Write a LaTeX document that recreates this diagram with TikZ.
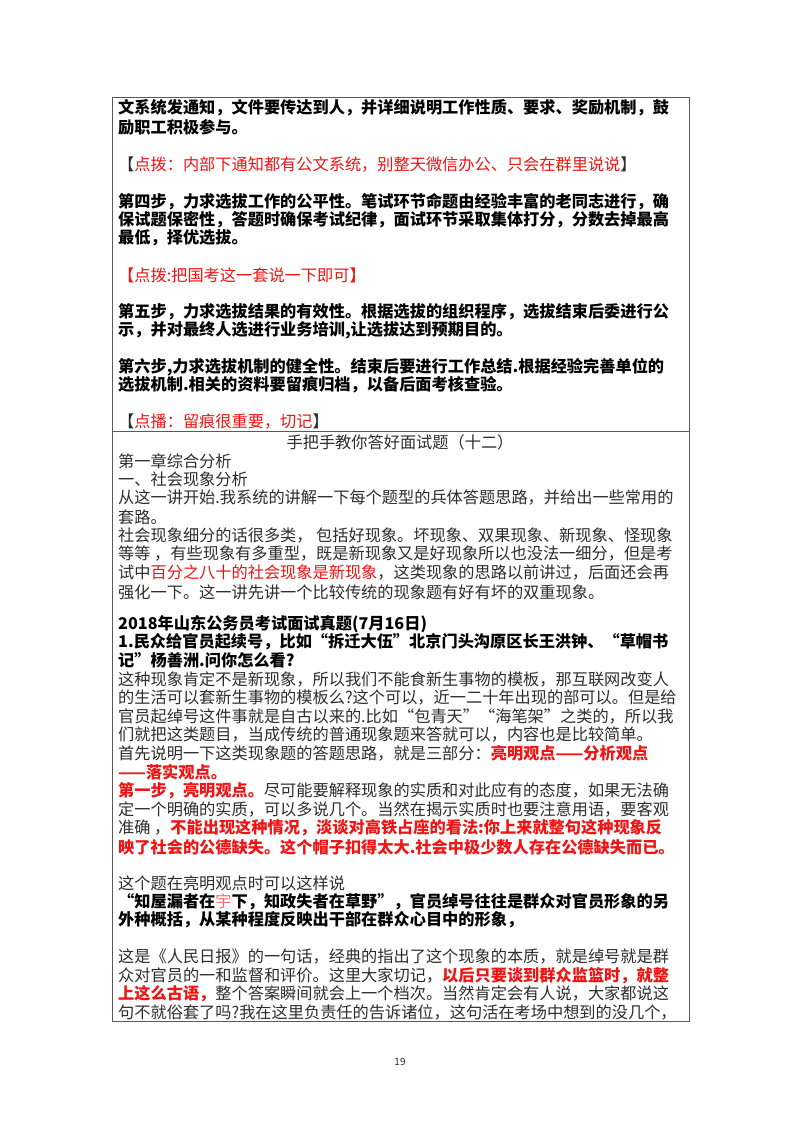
\documentclass[tikz,border=0pt]{standalone}
\usepackage{fontspec}
\setmainfont{Noto Sans CJK SC}
\definecolor{rd}{RGB}{240,20,20}
\definecolor{tx}{RGB}{45,45,45}
\newcommand{\R}[1]{\textcolor{rd}{#1}}
\begin{document}
\begin{tikzpicture}[x=1pt,y=-1pt,
  ln/.style={anchor=west,inner sep=0pt,text=tx,font=\fontsize{16.2}{17}\selectfont},
  bl/.style={ln,text=black,font=\fontsize{16.2}{17}\selectfont\bfseries}]
\useasboundingbox (0,0) rectangle (800,1132);
\fill[white] (0,0) rectangle (800,1132);
\draw[line width=0.9pt,gray!70!black] (112,97) rectangle (689,1021);
\draw[line width=0.9pt,gray!70!black] (112,431) -- (689,431);
% upper cell
\node[bl] (a1) at (118,108) {文系统发通知，文件要传达到人，并详细说明工作性质、要求、奖励机制，鼓};
\node[bl] (a2) at (118,127) {励职工积极参与。};
\node[ln] (a3) at (118,165) {【\R{点拨：内部下通知都有公文系统，别整天微信办公、只会在群里说说}】};
\node[bl] (a4) at (118,202) {第四步，力求选拔工作的公平性。笔试环节命题由经验丰富的老同志进行，确};
\node[bl] (a5) at (118,220) {保试题保密性，答题时确保考试纪律，面试环节采取集体打分，分数去掉最高};
\node[bl] (a6) at (118,238) {最低，择优选拔。};
\node[ln] (a7) at (118,275) {\R{【点拨:把国考这一套说一下即可】}};
\node[bl] (a8) at (118,312) {第五步，力求选拔结果的有效性。根据选拔的组织程序，选拔结束后委进行公};
\node[bl] (a9) at (118,330) {示，并对最终人选进行业务培训,让选拔达到预期目的。};
\node[bl] (a10) at (118,367) {第六步,力求选拔机制的健全性。结束后要进行工作总结.根据经验完善单位的};
\node[bl] (a11) at (118,385) {选拔机制.相关的资料要留痕归档，以备后面考核查验。};
\node[ln] (a12) at (118,422) {【\R{点播：留痕很重要，切记}】};
% lower cell
\node[ln,anchor=center] (t) at (400,442) {手把手教你答好面试题（十二）};
\node[ln] (b1) at (118,461) {第一章综合分析};
\node[ln] (b2) at (118,479) {一、社会现象分析};
\node[ln] (b3) at (118,498) {从这一讲开始.我系统的讲解一下每个题型的兵体答题思路，并给出一些常用的};
\node[ln] (b4) at (118,517) {套路。};
\node[ln] (b5) at (118,536) {社会现象细分的话很多类，\ 包括好现象。坏现象、双果现象、新现象、怪现象};
\node[ln] (b6) at (118,554) {等等\ ，有些现象有多重型，既是新现象又是好现象所以也没法一细分，但是考};
\node[ln] (b7) at (118,573) {试中\R{百分之八十的社会现象是新现象}，这类现象的思路以前讲过，后面还会再};
\node[ln] (b8) at (118,592) {强化一下。这一讲先讲一个比较传统的现象题有好有坏的双重现象。};
\node[bl] (b9) at (118,624) {2018年山东公务员考试面试真题(7月16日)};
\node[bl] (b10) at (118,642) {1.民众给官员起续号，比如“拆迁大伍”北京门头沟原区长王洪钟、“草帽书};
\node[bl] (b11) at (118,660) {记”杨善洲.问你怎么看?};
\node[ln] (b12) at (118,679) {这种现象肯定不是新现象，所以我们不能食新生事物的模板，那互联网改变人};
\node[ln] (b13) at (118,698) {的生活可以套新生事物的模板么?这个可以，近一二十年出现的部可以。但是给};
\node[ln] (b14) at (118,716) {官员起绰号这件事就是自古以来的.比如“包青天”“海笔架”之类的，所以我};
\node[ln] (b15) at (118,734) {们就把这类题目，当成传统的普通现象题来答就可以，内容也是比较简单。};
\node[ln] (b16) at (118,753) {首先说明一下这类现象题的答题思路，就是三部分：\textcolor{rd}{\bfseries 亮明观点——分析观点}};
\node[ln] (b17) at (118,772) {\textcolor{rd}{\bfseries ——落实观点。}};
\node[ln] (b18) at (118,791) {\textcolor{rd}{\bfseries 第一步，亮明观点。}尽可能要解释现象的实质和对此应有的态度，如果无法确};
\node[ln] (b19) at (118,809) {定一个明确的实质，可以多说几个。当然在揭示实质时也要注意用语，要客观};
\node[ln] (b20) at (118,828) {准确\ ，\textcolor{rd}{\bfseries 不能出现这种情况，淡谈对高铁占座的看法:你上来就整句这种现象反}};
\node[ln] (b21) at (118,847) {\textcolor{rd}{\bfseries 映了社会的公德缺失。这个帽子扣得太大.社会中极少数人存在公德缺失而已。}};
\node[ln] (b22) at (118,883) {这个题在亮明观点时可以这样说};
\node[bl] (b23) at (118,902) {“知屋漏者在\textcolor{rd!60}{\mdseries 宇}下，知政失者在草野”，官员绰号往往是群众对官员形象的另};
\node[bl] (b24) at (118,920) {外种概括，从某种程度反映出干部在群众心目中的形象，};
\node[ln] (b25) at (118,957) {这是《人民日报》的一句话，经典的指出了这个现象的本质，就是绰号就是群};
\node[ln] (b26) at (118,976) {众对官员的一和监督和评价。这里大家切记，\textcolor{rd}{\bfseries 以后只要谈到群众监篮时，就整}};
\node[ln] (b27) at (118,994) {\textcolor{rd}{\bfseries 上这么古语，}整个答案瞬间就会上一个档次。当然肯定会有人说，大家都说这};
\node[ln] (b28) at (118,1012) {句不就俗套了吗?我在这里负责任的告诉诸位，这句活在考场中想到的没几个，};
\node[ln,anchor=center,font=\fontsize{10}{12}\selectfont] (pg) at (400,1062) {19};
\end{tikzpicture}
\end{document}
